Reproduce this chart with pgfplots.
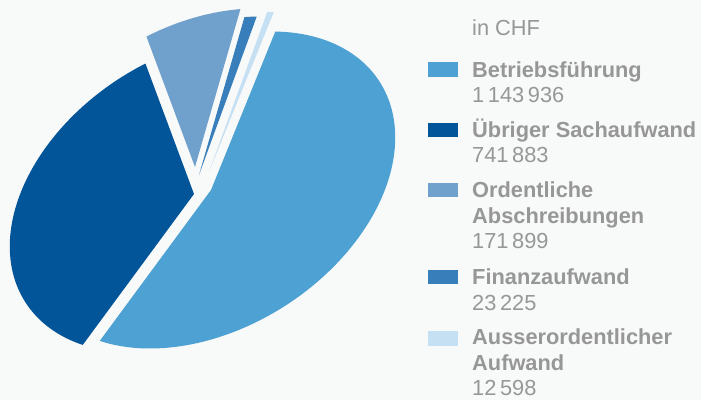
\documentclass[border=0pt]{standalone}
\usepackage{pgfplots}
\pgfplotsset{compat=1.18}
\usepackage{fontspec}
\setmainfont{Liberation Sans}
\definecolor{bgc}{HTML}{F8F9F9}
\definecolor{cB}{HTML}{4EA1D3}
\definecolor{cU}{HTML}{025598}
\definecolor{cO}{HTML}{70A0CC}
\definecolor{cF}{HTML}{377EBA}
\definecolor{cA}{HTML}{C5DFF3}
\definecolor{txt}{HTML}{979797}
% values in thousand CHF
\def\vB{1143.936}
\def\vU{741.883}
\def\vO{171.899}
\def\vF{23.225}
\def\vA{12.598}
\pgfmathsetmacro\tot{\vB+\vU+\vO+\vF+\vA}
\def\tz{78.5}
\pgfmathsetmacro\tB{\tz-(\vB/\tot)*360}
\pgfmathsetmacro\tU{\tB-(\vU/\tot)*360}
\pgfmathsetmacro\tO{\tU-(\vO/\tot)*360}
\pgfmathsetmacro\tF{\tO-(\vF/\tot)*360}
\pgfmathsetmacro\tA{\tF-(\vA/\tot)*360}
\begin{document}
\begin{tikzpicture}
\fill[bgc] (0,0) rectangle (701bp,400bp);
\begin{axis}[at={(0,0)}, anchor=south west, width=701bp, height=400bp, scale only axis,
  xmin=0, xmax=701, ymin=0, ymax=400, y dir=reverse, hide axis, clip=false]
% slices: apex (exploded) + tilted ellipse
\addplot[fill=cB, draw=none, domain=\tB:\tz, samples=120, variable=\t]
  ({211+182*cos(\t)+28.6*sin(\t)},{190-28.6*cos(\t)-155.9*sin(\t)}) -- (axis cs:211,190) -- cycle;
\addplot[fill=cU, draw=none, domain=\tU:\tB, samples=100, variable=\t]
  ({194+182*cos(\t)+28.6*sin(\t)},{194-28.6*cos(\t)-155.9*sin(\t)}) -- (axis cs:194,194) -- cycle;
\addplot[fill=cO, draw=none, domain=\tO:\tU, samples=40, variable=\t]
  ({195+182*cos(\t)+28.6*sin(\t)},{167-28.6*cos(\t)-155.9*sin(\t)}) -- (axis cs:195,167) -- cycle;
\addplot[fill=cF, draw=none, domain=\tF:\tO, samples=10, variable=\t]
  ({199+182*cos(\t)+28.6*sin(\t)},{175-28.6*cos(\t)-155.9*sin(\t)}) -- (axis cs:199,175) -- cycle;
\addplot[fill=cA, draw=none, domain=\tA:\tF, samples=10, variable=\t]
  ({209.5+182*cos(\t)+28.6*sin(\t)},{170.5-28.6*cos(\t)-155.9*sin(\t)}) -- (axis cs:209.5,170.5) -- cycle;
% legend
\tikzset{lt/.style={anchor=base west, inner sep=0pt, text=txt, font=\fontsize{21.8bp}{26bp}\selectfont}}
\node[lt] at (axis cs:472,35) {in CHF};
\fill[cB] (axis cs:428,62) rectangle (axis cs:458,77.3);
\node[lt] at (axis cs:472,77.3) {\bfseries Betriebsführung};
\node[lt] at (axis cs:472,102.7) {1\,143\,936};
\fill[cU] (axis cs:428,122.5) rectangle (axis cs:458,137.3);
\node[lt] at (axis cs:472,137.3) {\bfseries Übriger Sachaufwand};
\node[lt] at (axis cs:472,162.7) {741\,883};
\fill[cO] (axis cs:428,182.5) rectangle (axis cs:458,197.3);
\node[lt] at (axis cs:472,197.3) {\bfseries Ordentliche};
\node[lt] at (axis cs:472,223.3) {\bfseries Abschreibungen};
\node[lt] at (axis cs:472,248.3) {171\,899};
\fill[cF] (axis cs:428,269.5) rectangle (axis cs:458,284.3);
\node[lt] at (axis cs:472,284.3) {\bfseries Finanzaufwand};
\node[lt] at (axis cs:472,310) {23\,225};
\fill[cA] (axis cs:428,331) rectangle (axis cs:458,345.8);
\node[lt] at (axis cs:472,344.5) {\bfseries Ausserordentlicher};
\node[lt] at (axis cs:472,370) {\bfseries Aufwand};
\node[lt] at (axis cs:472,395) {12\,598};
\end{axis}
\end{tikzpicture}
\end{document}
